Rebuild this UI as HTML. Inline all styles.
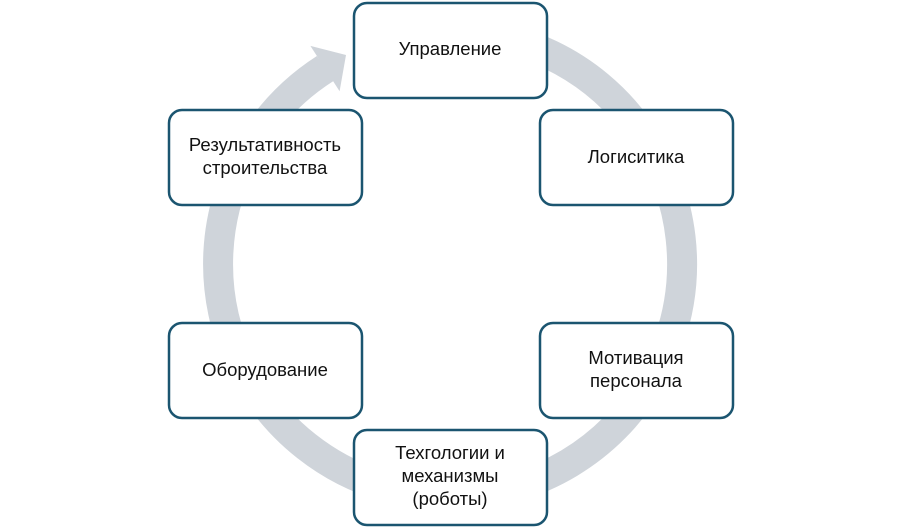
<!DOCTYPE html>
<html><head><meta charset="utf-8"><style>
html,body{margin:0;padding:0;background:#fff;width:900px;height:528px;overflow:hidden}
svg text{font-family:"Liberation Sans",sans-serif;font-size:18.5px;fill:#111;text-anchor:middle}
</style></head><body>
<svg width="900" height="528" viewBox="0 0 900 528" xmlns="http://www.w3.org/2000/svg">
<path d="M450 32 A232 232 0 1 1 325 68.6" fill="none" stroke="#cfd4da" stroke-width="30"/>
<polygon points="310.4,45.9 346,55 339.6,91.3" fill="#cfd4da"/>
<polygon points="318,57 326,52 335,80 328,84" fill="#cfd4da"/>
<g fill="#fff" stroke="#1b5570" stroke-width="2.5">
<rect x="354" y="3" width="193" height="95" rx="13"/>
<rect x="540" y="110" width="193" height="95" rx="13"/>
<rect x="540" y="323" width="193" height="95" rx="13"/>
<rect x="354" y="430" width="193" height="95" rx="13"/>
<rect x="169" y="323" width="193" height="95" rx="13"/>
<rect x="169" y="110" width="193" height="95" rx="13"/>
</g>
<text x="450" y="55">Управление</text>
<text x="636" y="163">Логиситика</text>
<text x="636" y="364">Мотивация</text>
<text x="636" y="387">персонала</text>
<text x="450" y="459">Техгологии и</text>
<text x="450" y="482">механизмы</text>
<text x="450" y="505">(роботы)</text>
<text x="265" y="376">Оборудование</text>
<text x="265" y="151">Результативность</text>
<text x="265" y="174">строительства</text>
</svg>
</body></html>
